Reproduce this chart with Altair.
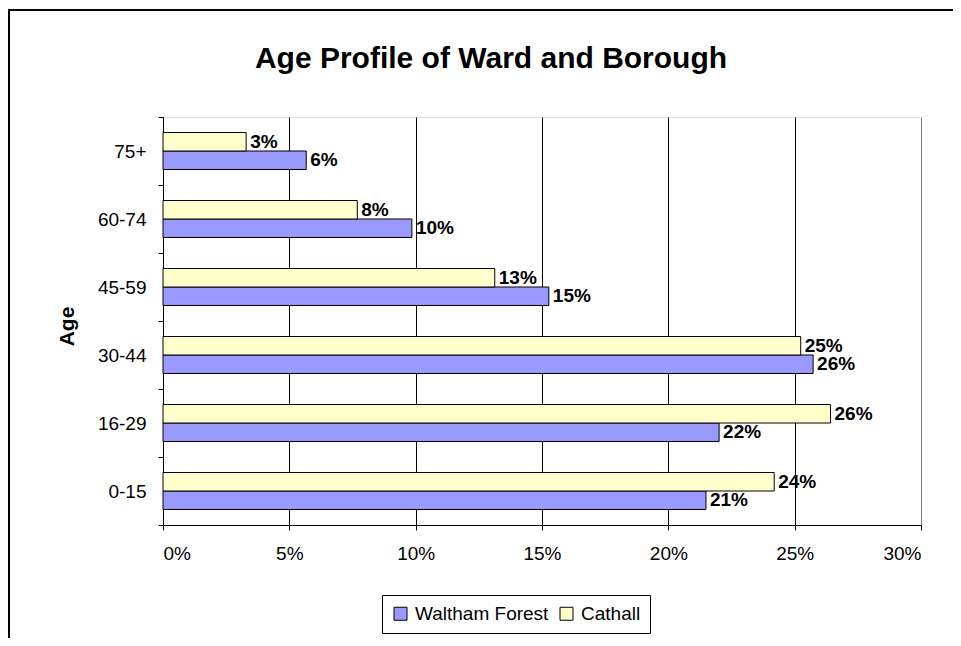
import altair as alt
import pandas as pd

ages = ["75+", "60-74", "45-59", "30-44", "16-29", "0-15"]
waltham_forest = [5.67, 9.85, 15.27, 25.73, 22.01, 21.49]
cathall = [3.29, 7.69, 13.13, 25.24, 26.42, 24.19]
series = ["Waltham Forest", "Cathall"]
colors = ["#9999FF", "#FFFFCC"]
x_ticks = [0, 0.05, 0.10, 0.15, 0.20, 0.25, 0.30]

rows = []
for a, w, c in zip(ages, waltham_forest, cathall):
    rows.append({"age": a, "series": "Waltham Forest", "value": w / 100})
    rows.append({"age": a, "series": "Cathall", "value": c / 100})
df = pd.DataFrame(rows)

FONT = "Liberation Sans"
offset_order = ["Cathall", "Waltham Forest"]

y_enc = alt.Y(
    "age:N",
    sort=ages,
    scale=alt.Scale(paddingInner=0, paddingOuter=0),
    axis=alt.Axis(
        title="Age",
        titleFont=FONT,
        titleFontSize=21,
        titleFontWeight="bold",
        titleColor="black",
        titleAngle=270,
        titleX=-96,
        titleY=209,
        titleAlign="center",
        titleBaseline="middle",
        labelFont=FONT,
        labelFontSize=19,
        labelColor="#000",
        labelPadding=12,
        tickBand="extent",
        tickSize=5,
        tickColor="black",
        domainColor="black",
        grid=False,
    ),
)
yoff = alt.YOffset("series:N", sort=offset_order,
                   scale=alt.Scale(paddingInner=0, paddingOuter=0.84))

x_enc = alt.X(
    "value:Q",
    scale=alt.Scale(domain=[0, 0.30], nice=False),
    axis=alt.Axis(
        title=None,
        values=x_ticks,
        format=".0%",
        labelFont=FONT,
        labelFontSize=19,
        labelColor="#000",
        labelPadding=14,
        tickSize=5,
        tickColor="black",
        domainColor="black",
        grid=True,
        gridColor={"condition": {"test": "datum.value >= 0.3", "value": "#808080"}, "value": "black"},
        gridOpacity=1,
        gridWidth=1,
    ),
)

bars = alt.Chart(df).mark_bar(stroke="black", strokeWidth=1).encode(
    y=y_enc,
    yOffset=yoff,
    x=x_enc,
    color=alt.Color(
        "series:N",
        scale=alt.Scale(domain=series, range=colors),
        legend=alt.Legend(
            title=None,
            orient="none",
            legendX=219,
            legendY=478,
            direction="horizontal",
            strokeColor="black",
            padding=9,
            symbolType="square",
            symbolSize=169,
            symbolStrokeColor="black",
            symbolStrokeWidth=1,
            labelFont=FONT,
            labelFontSize=19,
            labelColor="black",
            labelOffset=5,
            columnPadding=8,
        ),
    ),
)

labels = alt.Chart(df).transform_calculate(
    label="format(datum.value, '.0%')"
).mark_text(
    align="left", baseline="middle", dx=4, font=FONT, fontSize=19,
    fontWeight="bold", color="black"
).encode(
    y=alt.Y("age:N", sort=ages),
    yOffset=alt.YOffset("series:N", sort=offset_order),
    x=alt.X("value:Q"),
    text="label:N",
)

frame = alt.Chart(alt.Data(values=[{}])).mark_rect(
    fill=None, stroke="black", strokeWidth=2
).encode(
    x=alt.value(-154), x2=alt.value(820), y=alt.value(-107), y2=alt.value(540)
)

chart = alt.layer(frame, bars, labels).properties(
    width=758,
    height=408,
    title=alt.Title(
        "Age Profile of Ward and Borough",
        font=FONT,
        fontSize=30,
        fontWeight="bold",
        color="black",
        anchor="middle",
        frame="group",
        dx=-51,
        offset=-89,
        baseline="alphabetic",
    ),
    autosize=alt.AutoSizeParams(type="none"),
    padding={"left": 155, "top": 109, "right": 32, "bottom": 113},
).configure_view(
    stroke="#808080", strokeWidth=1
).configure(background="white")

chart.save("out.html", embed_options={"renderer": "svg", "actions": False})
